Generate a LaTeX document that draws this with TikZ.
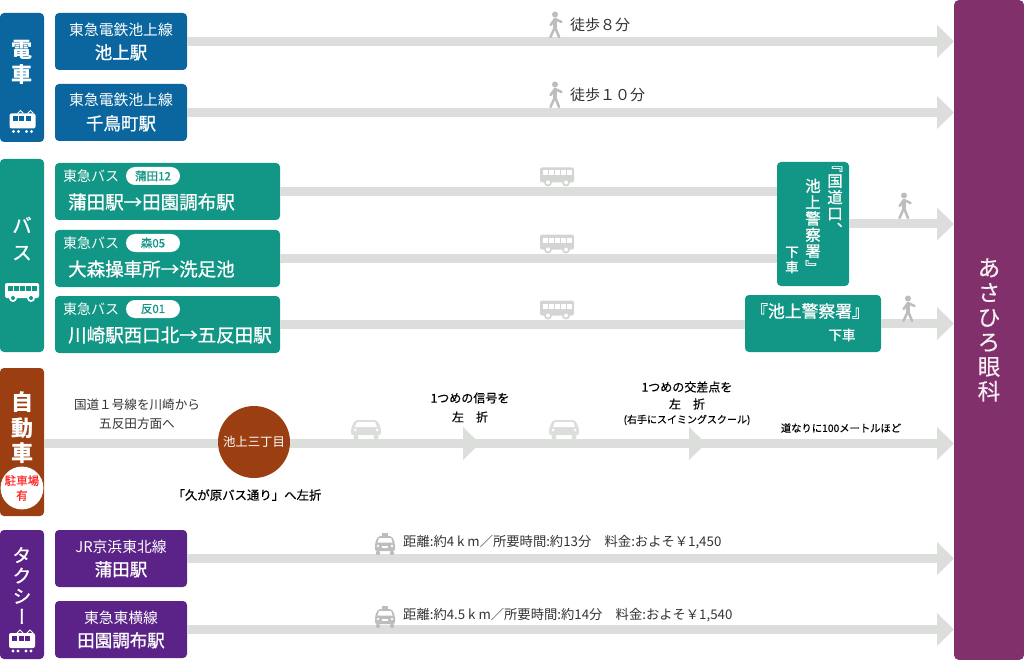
\documentclass[tikz,border=0pt]{standalone}
\usepackage{fontspec}
\setmainfont{Noto Sans CJK JP}
\newfontfamily\midfont[FakeBold=0.35]{Noto Sans CJK JP}
\newfontfamily\heavyfont[FakeBold=1]{Noto Sans CJK JP}
\newfontfamily\vertfont[RawFeature=+vert,FakeBold=1]{Noto Sans CJK JP}
\usetikzlibrary{arrows.meta}
\definecolor{trainblue}{HTML}{0B669F}
\definecolor{busgreen}{HTML}{129686}
\definecolor{carbrown}{HTML}{9B3F12}
\definecolor{taxipurple}{HTML}{5B2388}
\definecolor{clinicplum}{HTML}{82306C}
\definecolor{routegray}{HTML}{DCDEDC}
\definecolor{icongray}{HTML}{BDBDBD}
\definecolor{inkgray}{HTML}{333333}
\newcommand{\SizeOf}[2]{\fontsize{#1}{#2}\selectfont}
\newcommand{\TwoLine}[2]{{\SizeOf{14.8}{18}#1}\\[7pt]{\heavyfont\SizeOf{17.5}{18}#2}}
\tikzset{
  sidebox/.style={rounded corners=4pt,fill=#1,text=white,minimum width=44pt,align=center,inner sep=0pt,outer sep=0pt},
  stationbox/.style={rounded corners=4pt,fill=#1,text=white,minimum width=132pt,minimum height=57pt,align=center,inner sep=0pt,outer sep=0pt},
  busbox/.style={rounded corners=4pt,fill=busgreen,minimum width=225pt,minimum height=57pt,inner sep=0pt,outer sep=0pt},
  buscap/.style={text=white,anchor=west,inner sep=0pt,font=\SizeOf{14}{16}},
  busroute/.style={text=white,anchor=west,inner sep=0pt,font=\heavyfont\SizeOf{18.5}{20}},
  buscode/.style={fill=white,text=busgreen,rounded corners=9pt,minimum width=54pt,minimum height=18pt,inner sep=0pt,font=\heavyfont\SizeOf{11.5}{13}},
  note/.style={text=inkgray,inner sep=0pt,align=center,font=\SizeOf{12.6}{19}},
  boldnote/.style={text=black,inner sep=0pt,align=center,font=\midfont\SizeOf{12}{19}},
  fare/.style={text=inkgray,inner sep=0pt,anchor=west,font=\SizeOf{13.3}{15}},
  walktext/.style={text=inkgray,inner sep=0pt,anchor=west,font=\SizeOf{15}{17}},
  routeline/.style={line width=9pt,draw=routegray},
  route/.style={routeline,-{Triangle[length=17pt,width=32pt]}},
  pics/walker/.style={code={
    \fill[icongray] (0,-10.5) circle (3);
    \draw[icongray,line width=4pt,line cap=round] (0,-5)--(0,2);
    \draw[icongray,line width=2.5pt,line cap=round] (0,2)--(-4.5,12) (0,2)--(4,12) (0,-6)--(-4.5,0) (0,-6)--(6.5,-3);
  }},
  pics/trainicon/.style 2 args={code={
    \draw[#1,line width=1pt] (-5,-7)--(-2,-10)--(1,-7) (5,-7)--(8,-10)--(11,-7);
    \fill[#1,rounded corners=2pt] (-13,-7) rectangle (13,8);
    \foreach \Px in {-10,-3.5,3}{ \fill[#2] (\Px,-4) rectangle ++(5,5); }
    \fill[#1] (-9,11) circle (1.6) (-4,11) circle (1.6) (4,11) circle (1.6) (9,11) circle (1.6);
  }},
  pics/busicon/.style 2 args={code={
    \fill[#1,rounded corners=2pt] (-17,-9) rectangle (17,6);
    \foreach \Px in {-14,-8,-2,4,10}{ \fill[#2] (\Px,-6) rectangle ++(4.5,5); }
    \fill[#1] (-9,6) circle (4) (9,6) circle (4);
    \fill[#2] (-9,6) circle (2) (9,6) circle (2);
  }},
  pics/caricon/.style={code={
    \fill[#1,rounded corners=2pt] (-15,-1) -- (-11,-9) -- (11,-9) -- (15,-1) -- (15,6) -- (-15,6) -- cycle;
    \fill[white] (-9,-7) -- (9,-7) -- (11,-2) -- (-11,-2) -- cycle;
    \fill[#1] (-10,8) circle (2.5) (10,8) circle (2.5);
    \fill[white] (-11,1) circle (1.5) (11,1) circle (1.5);
  }},
  pics/taxiicon/.style={code={
    \fill[icongray] (-3,-11) rectangle (3,-8);
    \fill[icongray,rounded corners=2pt] (-10,-1) -- (-7,-8) -- (7,-8) -- (10,-1) -- (10,7) -- (-10,7) -- cycle;
    \fill[white] (-6,-6) -- (6,-6) -- (7.5,-1.5) -- (-7.5,-1.5) -- cycle;
    \fill[icongray] (-7,9) circle (2.2) (7,9) circle (2.2);
    \fill[white] (-7,2) circle (1.4) (7,2) circle (1.4);
    \fill[white] (-3,2) rectangle (3,4);
  }}
}
\begin{document}
\begin{tikzpicture}[x=1pt,y=-1pt]
\useasboundingbox (0,0) rectangle (1024,660);
\node[rounded corners=5pt,fill=clinicplum,text=white!92!clinicplum,minimum width=70pt,minimum height=660pt,inner sep=0pt,outer sep=0pt,align=center,font=\midfont\SizeOf{22.5}{24.7}] (clinic) at (989,330) {あ\\さ\\ひ\\ろ\\眼\\科};
\node[sidebox=trainblue,minimum height=129pt,text depth=0pt] (densha) at (22,77.5) {};
\node[text=white,inner sep=0pt,align=center,font=\SizeOf{21}{25}\bfseries] (densha-text) at (22,62.5) {電\\車};
\pic at (22.5,120.5) {trainicon={white}{trainblue}};
\foreach \Name/\Y/\Line/\Stop/\Walk/\Wy in {ikegami/41.5/東急電鉄池上線/池上駅/徒歩８分/25,chidori/112.5/東急電鉄池上線/千鳥町駅/徒歩１０分/95}{
  \node[stationbox=trainblue] (\Name) at (121,\Y) {\TwoLine{\Line}{\Stop}};
  \draw[route] (\Name.east) -- (\Name.east -| clinic.west);
  \pic at (555,\Wy) {walker};
  \node[walktext] (\Name-walk) at (570,\Wy) {\Walk};
}
\node[sidebox=busgreen,minimum height=193pt] (bus) at (22,255.5) {};
\node[text=white,inner sep=0pt,align=center,font=\vertfont\SizeOf{20}{27}] (bus-text) at (22,238.5) {バ\\ス};
\pic at (22,292) {busicon={white}{busgreen}};
\node[rounded corners=4pt,fill=busgreen,minimum width=72pt,minimum height=124pt,inner sep=0pt,outer sep=0pt] (kokudo) at (813,224) {};
\node[rounded corners=4pt,fill=busgreen,minimum width=136pt,minimum height=57pt,inner sep=0pt,outer sep=0pt] (keisatsu) at (813,323.5) {};
\foreach \Name/\Y/\Code/\Route/\Stop in {busA/191.5/蒲田12/蒲田駅→田園調布駅/kokudo,busB/258.5/森05/大森操車所→洗足池/kokudo,busC/324.5/反01/川崎駅西口北→五反田駅/keisatsu}{
  \node[busbox] (\Name) at (167.5,\Y) {};
  \node[buscap] (\Name-cap) at (63,\Y-15.5) {東急バス};
  \node[buscode] (\Name-code) at (153,\Y-15.5) {\Code};
  \node[busroute] (\Name-route) at (68,\Y+10.5) {\Route};
  \draw[routeline] (\Name.east) -- (\Name.east -| \Stop.west);
  \pic at (557,\Y-15) {busicon={routegray!90!gray}{white}};
}
\node[text=white,inner sep=0pt,align=center,font=\vertfont\SizeOf{15.5}{16.3}] (kokudo-a) at (835,201) {『\\国\\道\\口\\、};
\node[text=white,inner sep=0pt,align=center,font=\vertfont\SizeOf{15.5}{16.3}] (kokudo-b) at (813,226) {池\\上\\警\\察\\署\\』};
\node[text=white,inner sep=0pt,align=center,font=\heavyfont\SizeOf{13.5}{15}] (kokudo-c) at (792,260) {下\\車};
\node[text=white,inner sep=0pt,font=\heavyfont\SizeOf{16.8}{18}] (keisatsu-a) at (810,311) {『池上警察署』};
\node[text=white,inner sep=0pt,font=\heavyfont\SizeOf{13.5}{15}] (keisatsu-b) at (842,335) {下車};
\draw[route] (kokudo.east) -- (kokudo.east -| clinic.west);
\draw[route] (keisatsu.east) -- (keisatsu.east -| clinic.west);
\pic at (904,206) {walker};
\pic at (908,309) {walker};
\node[sidebox=carbrown,minimum height=148pt] (jidosha) at (22,442) {};
\node[text=white,inner sep=0pt,align=center,font=\SizeOf{22}{25.5}\bfseries] (jidosha-text) at (22,428) {自\\動\\車};
\node[circle,fill=white,minimum size=40pt,inner sep=0pt,text=red!85!white,align=center,font=\midfont\SizeOf{11.5}{15}] (parking) at (22,488) {駐車場\\有};
\node[circle,fill=carbrown,minimum size=72pt,inner sep=0pt,outer sep=0pt,text=white,font=\SizeOf{12.4}{14}] (santyome) at (254,442) {池上三丁目};
\coordinate (shingo) at (480,443.5);
\coordinate (kosaten) at (706,443.5);
\draw[routeline] (jidosha.east |- shingo) -- (santyome.west |- shingo);
\draw[route] (santyome.east |- shingo) -- (shingo);
\draw[route] ([xshift=-15pt]shingo) -- (kosaten);
\draw[route] ([xshift=-15pt]kosaten) -- (kosaten -| clinic.west);
\pic at (366,429) {caricon=routegray};
\pic at (564,429) {caricon=routegray};
\node[note] (car-a) at (137,414.5) {国道１号線を川崎から\\五反田方面へ};
\node[note,text=black,font=\midfont\SizeOf{12.4}{14}] (car-b) at (247,495) {「久が原バス通り」へ左折};
\node[boldnote] (car-c) at (470,407.5) {1つめの信号を\\左　折};
\node[boldnote,font=\midfont\SizeOf{12}{17}] (car-d) at (687,395.5) {1つめの交差点を\\左　折};
\node[text=black,inner sep=0pt,font=\midfont\SizeOf{10}{12}] (car-e) at (687,420) {(右手にスイミングスクール)};
\node[text=black,inner sep=0pt,font=\midfont\SizeOf{10.3}{12}] (car-f) at (841,428) {道なりに100メートルほど};
\node[sidebox=taxipurple,minimum height=129pt] (taxi) at (22,594.5) {};
\node[text=white,inner sep=0pt,align=center,font=\vertfont\SizeOf{19}{20.5}] (taxi-text) at (22,585.5) {タ\\ク\\シ\\ー};
\pic at (22,640) {trainicon={white}{taxipurple}};
\foreach \Name/\Y/\Line/\Stop/\Fare/\Fy in {kamata/558.5/JR京浜東北線/蒲田駅/{距離:約4 k m／所要時間:約13分　料金:およそ￥1,450}/542,denen/629.5/東急東横線/田園調布駅/{距離:約4.5 k m／所要時間:約14分　料金:およそ￥1,540}/615}{
  \node[stationbox=taxipurple] (\Name) at (121,\Y) {\TwoLine{\Line}{\Stop}};
  \draw[route] (\Name.east) -- (\Name.east -| clinic.west);
  \pic at (385,\Fy+2) {taxiicon};
  \node[fare] (\Name-fare) at (403,\Fy) {\Fare};
}
\end{tikzpicture}
\end{document}
